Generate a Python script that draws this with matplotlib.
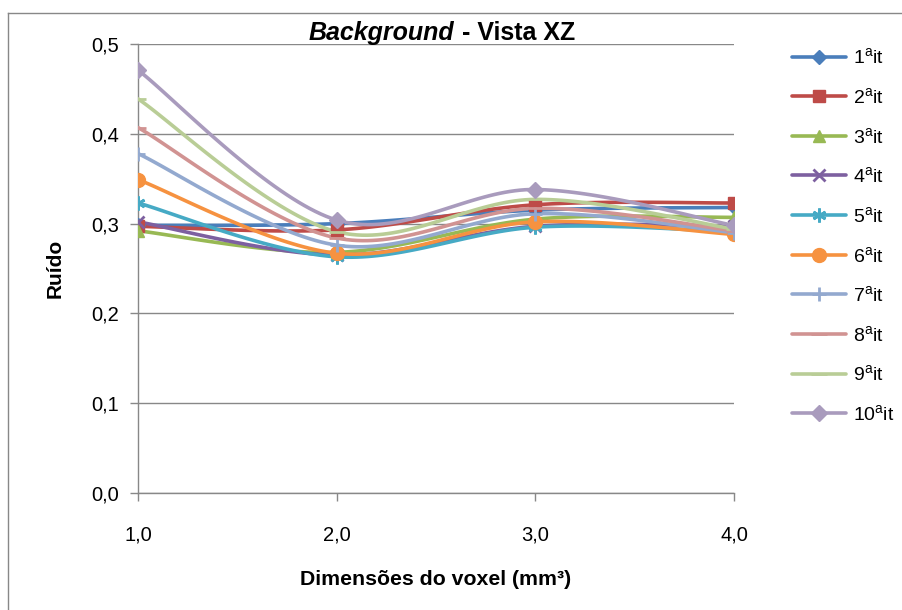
import numpy as np
import matplotlib
matplotlib.use("Agg")
import matplotlib.pyplot as plt
from matplotlib.lines import Line2D

plt.rcParams['font.family'] = ['Liberation Sans', 'DejaVu Sans']
plt.rcParams['mathtext.fontset'] = 'custom'
plt.rcParams['mathtext.rm'] = 'Liberation Sans'
plt.rcParams['mathtext.it'] = 'Liberation Sans:italic'
plt.rcParams['mathtext.bf'] = 'Liberation Sans:bold'

# Voxel sizes (mm^3)
voxel = [1.0, 2.0, 3.0, 4.0]

# Noise per iteration
it1 = [0.298, 0.300, 0.315, 0.318]
it2 = [0.297, 0.293, 0.321, 0.323]
it3 = [0.292, 0.268, 0.305, 0.307]
it4 = [0.302, 0.265, 0.297, 0.297]
it5 = [0.323, 0.263, 0.296, 0.291]
it6 = [0.349, 0.267, 0.302, 0.288]
it7 = [0.378, 0.276, 0.311, 0.290]
it8 = [0.407, 0.284, 0.317, 0.292]
it9 = [0.439, 0.291, 0.327, 0.294]
it10 = [0.471, 0.304, 0.338, 0.298]

series = [it1, it2, it3, it4, it5, it6, it7, it8, it9, it10]
labels = [r'%d$^{\mathrm{a}}$it' % (i + 1) for i in range(10)]
colors = ['#4A7EBB', '#BE4B48', '#98B954', '#7D60A0', '#46AAC5',
          '#F69240', '#93A9CF', '#D19392', '#B9CD96', '#A99BBD']
markers = ['D', 's', '^', 'x', (6, 2, 0), 'o', '+', '_', '_', 'D']
msizes = [7, 9, 9, 9, 10, 10, 10, 12, 12, 8]


def smooth(xs, ys, n=40):
    """Cubic Bezier smoothing through the points (Catmull-Rom tangents)."""
    xs = np.asarray(xs, float)
    ys = np.asarray(ys, float)
    px = np.concatenate([[xs[0]], xs, [xs[-1]]])
    py = np.concatenate([[ys[0]], ys, [ys[-1]]])
    out_x, out_y = [], []
    t = np.linspace(0, 1, n)
    for i in range(1, len(xs)):
        p0 = np.array([px[i], py[i]])
        p3 = np.array([px[i + 1], py[i + 1]])
        c1 = p0 + (np.array([px[i + 1], py[i + 1]]) - np.array([px[i - 1], py[i - 1]])) / 6
        c2 = p3 - (np.array([px[i + 2], py[i + 2]]) - np.array([px[i], py[i]])) / 6
        b = ((1 - t) ** 3)[:, None] * p0 + (3 * (1 - t) ** 2 * t)[:, None] * c1 \
            + (3 * (1 - t) * t ** 2)[:, None] * c2 + (t ** 3)[:, None] * p3
        out_x.extend(b[:, 0])
        out_y.extend(b[:, 1])
    return np.array(out_x), np.array(out_y)


fig = plt.figure(figsize=(9.03, 6.10), dpi=100)
ax = fig.add_axes([0.1528, 0.1918, 0.660, 0.736])

handles = []
for ys, lab, c, m, ms in zip(series, labels, colors, markers, msizes):
    sx, sy = smooth(voxel, ys)
    ax.plot(sx, sy, color=c, lw=2.6, solid_capstyle='round', zorder=3)
    mew = 2.0 if m in ('x', '+', '_', (6, 2, 0)) else 1.0
    ax.plot(voxel, ys, linestyle='none', marker=m, color=c, markersize=ms,
            markeredgewidth=mew, zorder=4)
    handles.append(Line2D([], [], color=c, lw=2.6, marker=m, markersize=ms,
                          markeredgewidth=mew, solid_capstyle='round'))

ax.set_xlim(1.0, 4.0)
ax.set_ylim(0.0, 0.5)
ax.set_xticks(voxel)
yt = [0.0, 0.1, 0.2, 0.3, 0.4, 0.5]
ax.set_yticks(yt)
ax.set_yticklabels([('%.1f' % v).replace('.', ',') for v in yt])
ax.set_xticklabels([('%.1f' % v).replace('.', ',') for v in voxel])

ax.grid(axis='y', color='#888888', lw=1.0, zorder=0)
ax.set_axisbelow(True)
for s in ['top', 'right']:
    ax.spines[s].set_visible(False)
for s in ['left', 'bottom']:
    ax.spines[s].set_color('#888888')
    ax.spines[s].set_linewidth(1.0)
ax.tick_params(axis='both', colors='#888888', width=1.0,
               labelcolor='black', labelsize=14.5)
ax.tick_params(axis='x', length=5.5, pad=18)
ax.tick_params(axis='y', length=5.5, pad=8)

ax.set_ylabel('Ruído', fontsize=15, fontweight='bold', labelpad=19)
ax.set_xlabel('Dimensões do voxel (mm³)', fontsize=15.3, fontweight='bold',
              labelpad=18)

# Title: italic-bold first word followed by bold text, centred over the axes
title_y = 1 + 4 / 449
t1 = ax.text(0.5, title_y, 'Background', transform=ax.transAxes,
             fontsize=18, fontweight='bold', fontstyle='italic',
             ha='left', va='baseline')
t2 = ax.text(0.5, title_y, ' - Vista XZ', transform=ax.transAxes,
             fontsize=18, fontweight='bold', ha='left', va='baseline')
renderer = fig.canvas.get_renderer()
w1 = t1.get_window_extent(renderer).width
w2 = t2.get_window_extent(renderer).width
axw = ax.get_window_extent(renderer).width
x0 = 0.5 - (w1 + w2) / 2 / axw + 6 / axw
t1.set_x(x0)
t2.set_x(x0 + w1 / axw)

ax.legend(handles, labels, loc='upper left', bbox_to_anchor=(1.085, 1.01),
          frameon=False, fontsize=14, handlelength=2.75, handletextpad=0.35,
          labelspacing=1.01, borderaxespad=0)

# chart border
fig.add_artist(Line2D([8 / 903, 8 / 903], [0, 1 - 13 / 610], color='#888888',
                      lw=1.0, transform=fig.transFigure))
fig.add_artist(Line2D([8 / 903, 1], [1 - 13 / 610, 1 - 13 / 610], color='#888888',
                      lw=1.0, transform=fig.transFigure))

fig.savefig('out.png', dpi=100)
